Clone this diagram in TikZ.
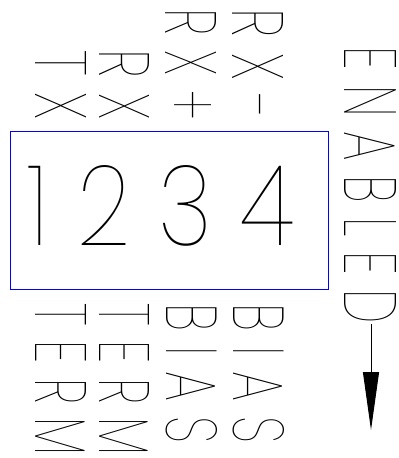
\documentclass[tikz,border=0pt]{standalone}
\usepackage{fontspec}
\usepackage{graphicx}
\usetikzlibrary{arrows.meta}
\newcommand{\pickfont}[2]{\IfFontExistsTF{#1}{\newfontfamily\strokefont{#1}[LetterSpace=30]}{#2}}
\pickfont{Poppins Thin}{%
 \pickfont{Fira Sans Hair}{%
  \pickfont{Fira Sans Thin}{%
   \pickfont{Lato Hairline}{%
    \pickfont{DejaVu Sans ExtraLight}{%
     \newfontfamily\strokefont{DejaVu Sans}[LetterSpace=30]}}}}}
\newcommand{\fitlabel}[3]{\resizebox{#1pt}{#2pt}{\strokefont #3}}
\begin{document}
\begin{tikzpicture}[x=1pt,y=-1pt,
  lbl/.style={inner sep=0pt,outer sep=0pt,rotate=-90},
  digits/.style={inner sep=0pt,outer sep=0pt},
  panel/.style={draw=blue,line width=1pt,inner sep=0pt,outer sep=0pt},
  conn/.style={line width=1pt,-{Triangle[length=58pt,width=16pt]}}]
\useasboundingbox (0,0) rectangle (399,458);
\node[panel,minimum width=318pt,minimum height=158pt] (box) at (169,210) {};
\node[digits] (num) at (161,206) {\fitlabel{266}{80}{1234}};
\node[lbl] (tx) at (61.5,85.5) {\fitlabel{69}{51}{TX}};
\node[lbl] (rx) at (125,85) {\fitlabel{70}{50}{RX}};
\node[lbl] (rxp) at (191.5,64.5) {\fitlabel{111}{51}{RX+}};
\node[lbl] (rxm) at (258.5,64.5) {\fitlabel{111}{51}{RX-}};
\node[lbl] (terma) at (61.5,380) {\fitlabel{152}{51}{TERM}};
\node[lbl] (termb) at (125,380) {\fitlabel{152}{50}{TERM}};
\node[lbl] (biasa) at (191.5,373.5) {\fitlabel{139}{51}{BIAS}};
\node[lbl] (biasb) at (258.5,373.5) {\fitlabel{139}{51}{BIAS}};
\node[lbl] (en) at (371,185.5) {\fitlabel{277}{52}{ENABLED}};
\coordinate (tip) at (371,430);
\draw[conn] (en.east) -- (tip);
\end{tikzpicture}
\end{document}
